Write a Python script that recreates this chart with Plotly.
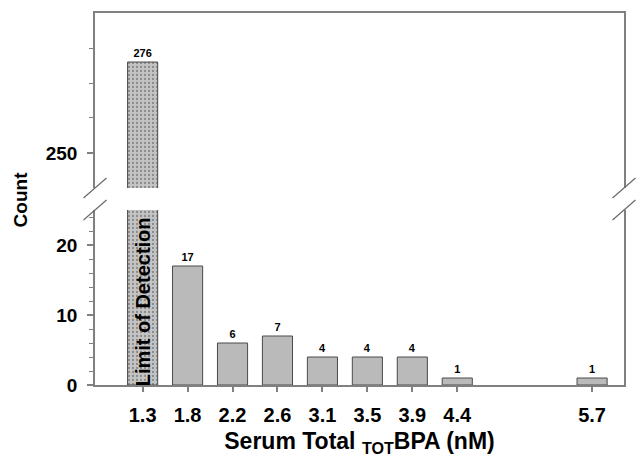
import plotly.graph_objects as go

# ---- data ----
bin_labels = ["1.3", "1.8", "2.2", "2.6", "3.1", "3.5", "3.9", "4.4", "5.7"]
bin_slots = [0, 1, 2, 3, 4, 5, 6, 7, 10]   # slot index on the x axis (8, 9 are empty bins)
counts = [276, 17, 6, 7, 4, 4, 4, 1, 1]
lod_label = "Limit of Detection"

FONT = "Liberation Sans, Arial, sans-serif"
AXC = "#808080"
OUT = dict(color="#4a4a4a", width=1)
VFONT = dict(family=FONT, size=11, color="black", weight="bold")


def lod_bar(xa, ya, with_text):
    return go.Bar(
        x=bin_slots[:1], y=counts[:1], xaxis=xa, yaxis=ya, width=0.67,
        marker=dict(color="#c4c4c4", line=OUT,
                    pattern=dict(shape=".", fgcolor="#4f4f4f", bgcolor="#c4c4c4",
                                 size=4, solidity=0.25, fillmode="overlay")),
        text=[str(counts[0])] if with_text else None,
        textposition="outside" if with_text else "none", cliponaxis=False,
        textfont=VFONT, hoverinfo="skip", showlegend=False)


fig = go.Figure()
fig.add_trace(lod_bar("x", "y", False))
fig.add_trace(go.Bar(
    x=bin_slots[1:], y=counts[1:], xaxis="x", yaxis="y", width=0.67,
    marker=dict(color="#bababa", line=OUT),
    text=[str(c) for c in counts[1:]], textposition="outside", cliponaxis=False,
    textfont=VFONT, hoverinfo="skip", showlegend=False))
fig.add_trace(lod_bar("x2", "y2", True))

tickfont = dict(family=FONT, size=19, color="black", weight="bold")
common_y = dict(showline=True, linecolor=AXC, linewidth=1.5, mirror=True,
                ticks="outside", ticklen=6, tickcolor=AXC, tickwidth=1.5,
                showgrid=False, zeroline=False, tickfont=tickfont, ticklabelstandoff=6)

fig.update_layout(
    width=636, height=460,
    margin=dict(l=95, r=10, t=13, b=75),
    plot_bgcolor="white", paper_bgcolor="white",
    xaxis=dict(domain=[0, 1], range=[-1.06, 10.71], anchor="y",
               tickmode="array", tickvals=bin_slots, ticktext=bin_labels,
               ticks="outside", ticklen=5, tickcolor=AXC, tickwidth=1.5,
               showline=True, linecolor=AXC, linewidth=1.5, showgrid=False, zeroline=False,
               tickfont=dict(family=FONT, size=20, color="black", weight="bold"),
               ticklabelstandoff=6,
               title=dict(text="Serum Total <sub>TOT</sub>BPA (nM)", standoff=8,
                          font=dict(family=FONT, size=23, color="black", weight="bold"))),
    xaxis2=dict(domain=[0, 1], range=[-1.06, 10.71], anchor="y2", side="top",
                showticklabels=False, ticks="", showline=True, linecolor=AXC, linewidth=1.5,
                showgrid=False, zeroline=False),
    yaxis=dict(domain=[0, 0.4704], range=[0, 25], anchor="x",
               tickmode="array", tickvals=[0, 10, 20],
               minor=dict(tickmode="linear", tick0=0, dtick=2, ticks="outside",
                          ticklen=4, tickcolor=AXC, tickwidth=1.2),
               **common_y),
    yaxis2=dict(domain=[0.5296, 1], range=[240, 290], anchor="x2",
                tickmode="array", tickvals=[250],
                minor=dict(tickmode="array", tickvals=[260, 270, 280], ticks="outside",
                           ticklen=4, tickcolor=AXC, tickwidth=1.2),
                **common_y),
)

fig.add_annotation(text="Count", xref="paper", yref="paper", x=-0.141, y=0.5,
                   textangle=-90, showarrow=False, xanchor="center", yanchor="middle",
                   font=dict(family=FONT, size=19, color="black", weight="bold"))
fig.add_annotation(text=lod_label, xref="x", yref="y", x=bin_slots[0], y=11.9,
                   textangle=-90, showarrow=False,
                   font=dict(family=FONT, size=20, color="black", weight="bold"))

# axis break marks
for xc in (0, 1):
    for yc in (0.5296, 0.4704):
        fig.add_shape(type="line", xref="paper", yref="paper",
                      x0=xc - 0.0217, x1=xc + 0.0217, y0=yc - 0.0269, y1=yc + 0.0269,
                      line=dict(color="#6a6a6a", width=1.2))

fig.write_html("out.html")
